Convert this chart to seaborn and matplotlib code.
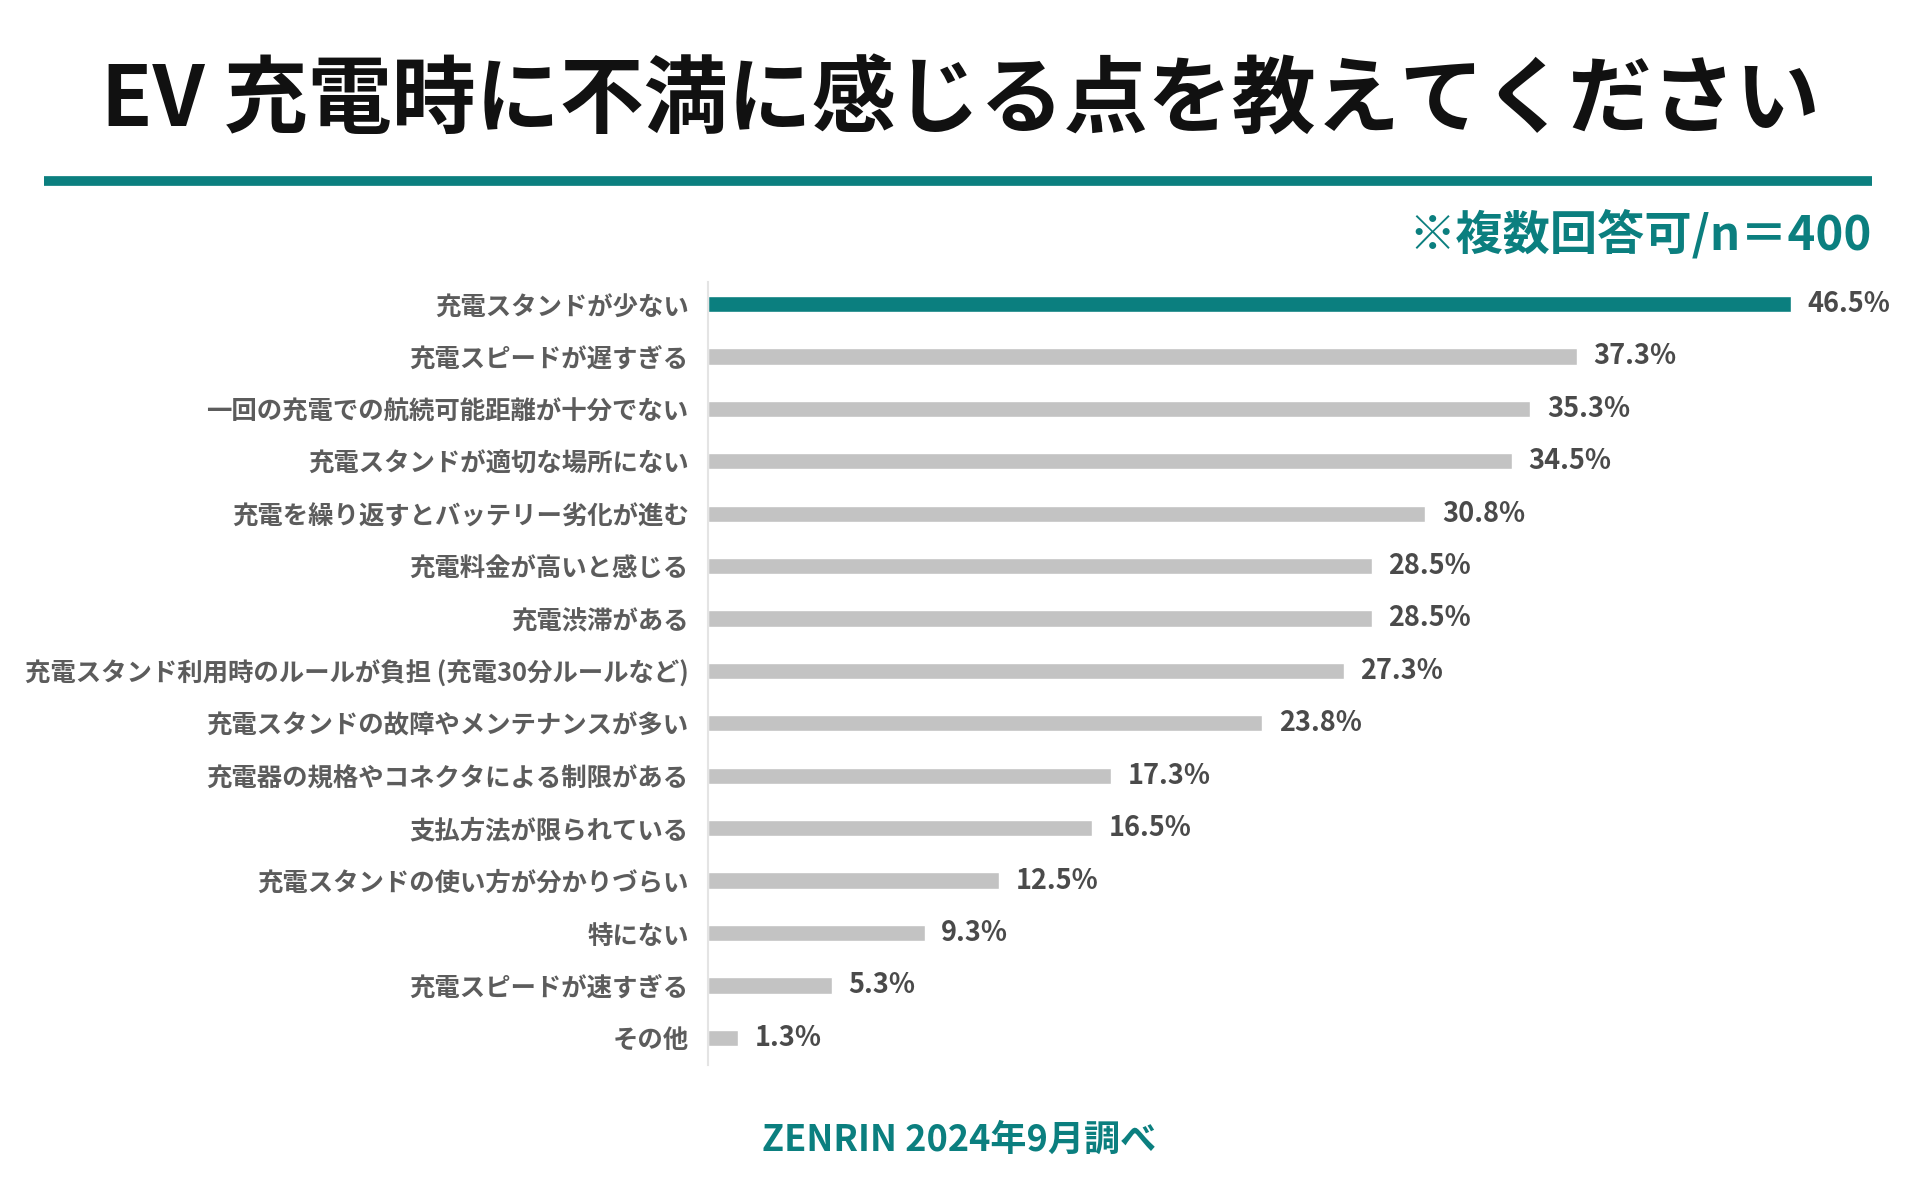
import pandas as pd
import matplotlib
matplotlib.use("Agg")
import matplotlib.pyplot as plt
import seaborn as sns

# --- DATA ---
labels = [
    "充電スタンドが少ない",
    "充電スピードが遅すぎる",
    "一回の充電での航続可能距離が十分でない",
    "充電スタンドが適切な場所にない",
    "充電を繰り返すとバッテリー劣化が進む",
    "充電料金が高いと感じる",
    "充電渋滞がある",
    "充電スタンド利用時のルールが負担 (充電30分ルールなど)",
    "充電スタンドの故障やメンテナンスが多い",
    "充電器の規格やコネクタによる制限がある",
    "支払方法が限られている",
    "充電スタンドの使い方が分かりづらい",
    "特にない",
    "充電スピードが速すぎる",
    "その他",
]
values = [46.5, 37.3, 35.3, 34.5, 30.8, 28.5, 28.5, 27.3, 23.8, 17.3, 16.5, 12.5, 9.3, 5.3, 1.3]

title = "EV 充電時に不満に感じる点を教えてください"
note = "※複数回答可/n＝400"
source = "ZENRIN 2024年9月調べ"

TEAL = "#0b7f7f"
GREY = "#c3c3c3"

sns.set_style("white")
plt.rcParams["font.family"] = ["Noto Sans CJK JP", "DejaVu Sans"]

df = pd.DataFrame({"項目": labels, "割合": values})
colors = [TEAL] + [GREY] * (len(labels) - 1)

fig = plt.figure(figsize=(19.2, 12.04), dpi=100)
ax = fig.add_axes([0.3688, 0.1154, 0.6065, 0.6504])

sns.barplot(data=df, x="割合", y="項目", hue="項目", palette=colors,
            legend=False, width=0.31, saturation=1, ax=ax)

# --- VERDIER ---
for cont, v in zip(ax.containers, values):
    ax.bar_label(cont, labels=[f"{v}%"], padding=12, fontsize=19.5,
                 color="#4a4a4a", fontweight="bold")

ax.set_xlim(0, 50)
ax.set_ylim(len(labels) - 0.48, -0.42)
ax.set_xlabel("")
ax.set_ylabel("")
ax.set_xticks([])
ax.tick_params(axis="y", length=0, pad=14, labelsize=18.3, labelcolor="#5c5c5c")
for lab in ax.get_yticklabels():
    lab.set_fontweight("bold")

for side in ["top", "right", "bottom"]:
    ax.spines[side].set_visible(False)
ax.spines["left"].set_color("#e4e4e4")
ax.spines["left"].set_linewidth(1.5)

# --- TITTEL OG TEKST ---
fig.text(0.5, 0.915, title, ha="center", va="center", fontsize=60.5,
         fontweight="bold", color="#111111")
fig.add_artist(plt.Line2D([0.023, 0.975], [0.850, 0.850], color=TEAL,
                          linewidth=7, solid_capstyle="butt"))
fig.text(0.975, 0.805, note, ha="right", va="center", fontsize=34,
         fontweight="bold", color=TEAL)
fig.text(0.4995, 0.053, source, ha="center", va="center", fontsize=26,
         fontweight="bold", color=TEAL)

fig.savefig("out.png", dpi=100, facecolor="white")
